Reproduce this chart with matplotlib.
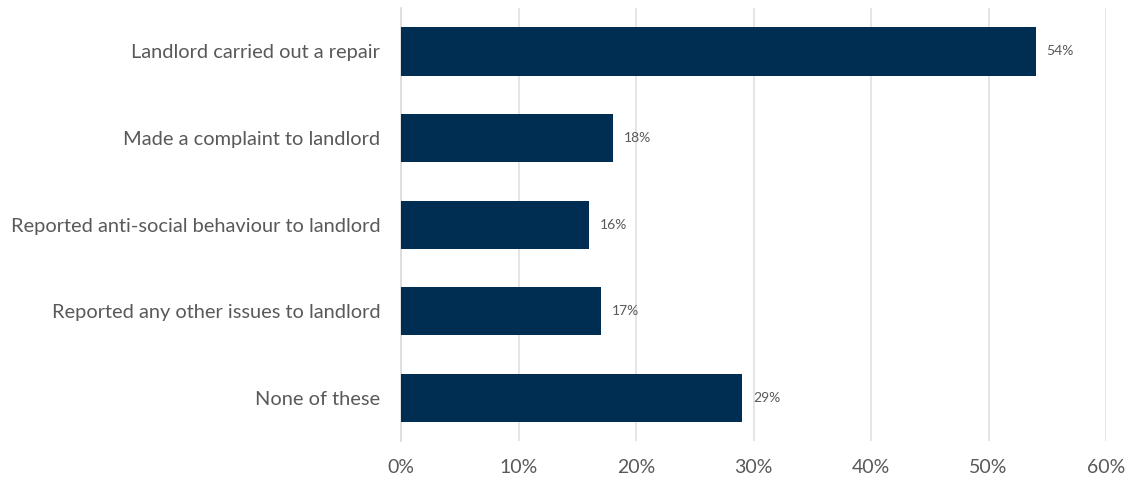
import numpy as np
import matplotlib.pyplot as plt

# Donnees
categories = ["Landlord carried out a repair",
              "Made a complaint to landlord",
              "Reported anti-social behaviour to landlord",
              "Reported any other issues to landlord",
              "None of these"]
values = [54, 18, 16, 17, 29]
xticks = [0, 10, 20, 30, 40, 50, 60]

plt.rcParams['font.family'] = ['Lato', 'DejaVu Sans']

fig = plt.figure(figsize=(11.31, 4.8), dpi=100)
ax = fig.add_axes([0.3546, 0.081, 0.6233, 0.902])

y = np.arange(len(categories))
ax.barh(y, values, height=0.556, color="#002D52", zorder=3)

for yi, v in zip(y, values):
    ax.text(v + 0.95, yi, f"{v}%", va="center", ha="left", fontsize=10, color="#595959")

ax.set_ylim(len(categories) - 0.5, -0.5)
ax.set_xlim(0, 60)
ax.set_yticks(y)
ax.set_yticklabels(categories, fontsize=14.4, color="#595959")
ax.set_xticks(xticks)
ax.set_xticklabels([f"{t}%" for t in xticks], fontsize=14, color="#595959")
ax.tick_params(axis="both", length=0)
ax.tick_params(axis="y", pad=15)
ax.tick_params(axis="x", pad=13)

ax.grid(axis="x", color="#DEDEDE", linewidth=1.1, zorder=0)
for s in ["top", "right", "bottom"]:
    ax.spines[s].set_visible(False)
ax.spines["left"].set_color("#D9D9D9")
ax.spines["left"].set_linewidth(1.2)

fig.savefig("out.png", dpi=100)
